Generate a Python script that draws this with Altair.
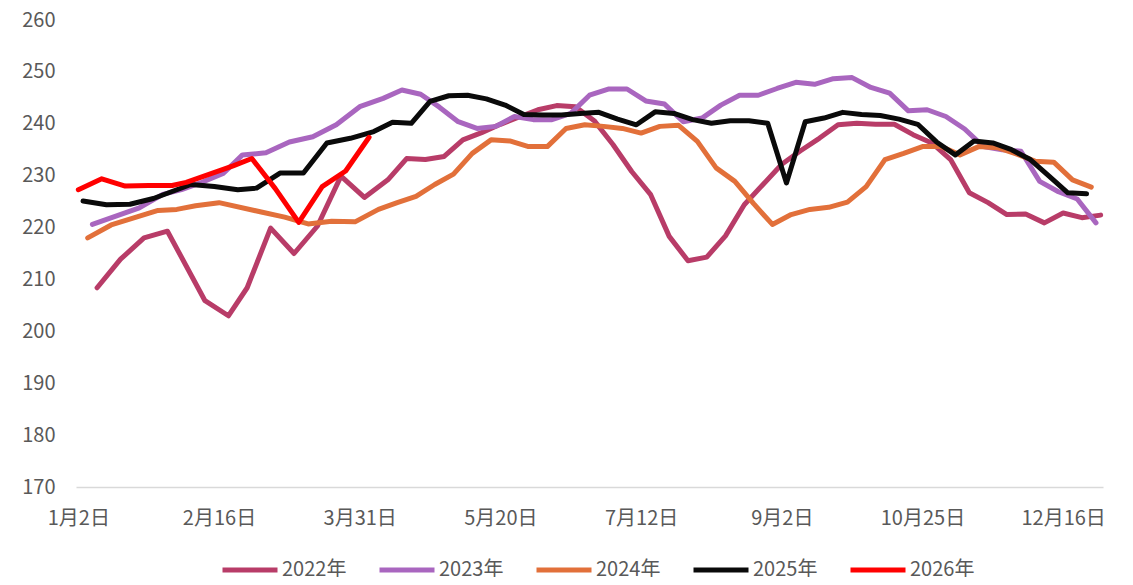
import datetime as dt
import altair as alt
import pandas as pd

# Series names, first weekly (Friday) observation of each year, colours
years = ["2022年", "2023年", "2024年", "2025年", "2026年"]
first_dates = ["2022-01-07", "2023-01-06", "2024-01-05", "2025-01-03", "2026-01-02"]
colors = ["#B83C68", "#A966BF", "#E2703A", "#0A0A0A", "#FF0000"]

# Weekly values (None = no observation that week, e.g. Spring Festival)
v2022 = [208.4, 213.9, 218.0, 219.3, None, 205.9, 203.0, 208.4, 219.9, 215.0,
         220.3, 229.9, 225.8, 229.2, 233.3, 233.1, 233.7, 236.9, 238.3, 239.9,
         241.3, 242.7, 243.5, 243.3, 240.6, 236.0, 230.8, 226.4, 218.3, 213.6,
         214.3, 218.4, 224.4, 228.3, 232.2, 234.8, 237.2, 239.8, 240.1, 239.9,
         239.9, 237.9, 236.3, 233.1, 226.7, 224.8, 222.5, 222.6, 220.9, 222.8,
         221.9, 222.4]
v2023 = [220.6, 222.2, 223.8, 226.4, 227.3, 228.6, 230.5, 234.0, 234.4, 236.5,
         237.5, 239.8, 243.3, 244.9, 246.5, 245.7, 243.2, 240.4, 239.1, 239.5,
         241.4, 240.8, 240.8, 242.0, 245.5, 246.7, 246.7, 244.4, 243.8, 240.4,
         241.1, 243.6, 245.5, 245.5, 246.8, 248.0, 247.6, 248.7, 248.9, 247.0,
         245.9, 242.5, 242.7, 241.4, 239.0, 235.6, 235.0, 234.7, 228.9, 226.9,
         225.5, 220.9]
v2024 = [218.0, 220.5, 221.9, 223.3, 223.5, 224.2, 224.8, None, 223.0, 222.0,
         220.7, 221.2, 221.1, 223.5, 224.8, 226.0, 228.3, 230.3, 234.3, 236.9,
         236.7, 235.6, 235.6, 239.1, 239.8, 239.5, 239.1, 238.2, 239.5, 239.7,
         236.6, 231.5, 228.9, 224.6, 220.6, 222.5, 223.5, 223.9, 224.9, 227.9,
         233.1, 234.3, 235.6, 235.6, 234.0, 235.6, 235.4, 234.2, 232.8, 232.6,
         229.2, 227.8]
v2025 = [225.1, 224.4, 224.5, 225.6, None, 228.3, 227.9, 227.3, 227.6, 230.5,
         230.5, 236.3, 237.2, 238.5, 240.3, 240.1, 244.3, 245.4, 245.5, 244.8,
         243.6, 241.8, 241.7, 241.7, 242.0, 242.2, 240.9, 239.8, 242.3, 242.0,
         240.8, 240.1, 240.6, 240.6, 240.1, 228.6, 240.4, 241.1, 242.2, 241.8,
         241.6, 240.9, 239.9, 236.5, 234.0, 236.7, 236.3, 235.0, 233.1, 229.9,
         226.7, 226.5]
v2026 = [227.3, 229.4, 228.0, 228.1, 228.1, 228.7, 230.3, 231.9, 233.3, 227.5,
         221.0, 227.9, 230.9, 237.4]
series_values = [v2022, v2023, v2024, v2025, v2026]

tick_labels = ["1月2日", "2月16日", "3月31日", "5月20日", "7月12日",
               "9月2日", "10月25日", "12月16日"]
y_ticks = [170, 180, 190, 200, 210, 220, 230, 240, 250, 260]

# Build table: category axis = union of month-day of all observations
rows = []
for name, start, vals in zip(years, first_dates, series_values):
    d0 = dt.date.fromisoformat(start)
    for w, v in enumerate(vals):
        if v is None:
            continue
        d = d0 + dt.timedelta(days=7 * w)
        rows.append({"year": name, "key": (d.month, d.day),
                     "md": f"{d.month}月{d.day}日", "value": v})
keys = sorted({r["key"] for r in rows})
categories = [f"{m}月{d}日" for m, d in keys]
pos = {k: i for i, k in enumerate(keys)}
for r in rows:
    r["idx"] = pos[r.pop("key")]
df = pd.DataFrame(rows)

FONT = "Noto Sans CJK SC"

chart = alt.Chart(df).mark_line(
    strokeWidth=5, strokeCap="round", strokeJoin="round"
).encode(
    x=alt.X("md:O",
            scale=alt.Scale(domain=categories, type="point", padding=0.5),
            axis=alt.Axis(values=tick_labels, title=None, labelAngle=0,
                          ticks=False, grid=False, domainColor="#D9D9D9",
                          domainWidth=1.5, labelPadding=21)),
    y=alt.Y("value:Q",
            scale=alt.Scale(domain=[170, 260], nice=False, zero=False),
            axis=alt.Axis(values=y_ticks, title=None, ticks=False,
                          domain=False, grid=False, labelPadding=21)),
    color=alt.Color("year:N",
                    scale=alt.Scale(domain=years, range=colors),
                    legend=alt.Legend(title=None, orient="none",
                                      legendX=144, legendY=520,
                                      direction="horizontal", columns=5,
                                      symbolType="stroke", symbolSize=3025,
                                      symbolStrokeWidth=5, labelFontSize=20,
                                      labelOffset=2, columnPadding=22,
                                      padding=0)),
    order=alt.Order("idx:Q"),
).properties(
    width=1027, height=467,
    padding={"left": 68, "top": 12, "right": 22, "bottom": 90},
    autosize=alt.AutoSizeParams(type="none"),
    background="white",
).configure_view(
    stroke=None
).configure_axis(
    labelFont=FONT, labelFontSize=20, labelColor="#595959"
).configure_legend(
    labelFont=FONT, labelColor="#595959"
)

chart.save("out.html", embed_options={"renderer": "svg", "actions": False})
